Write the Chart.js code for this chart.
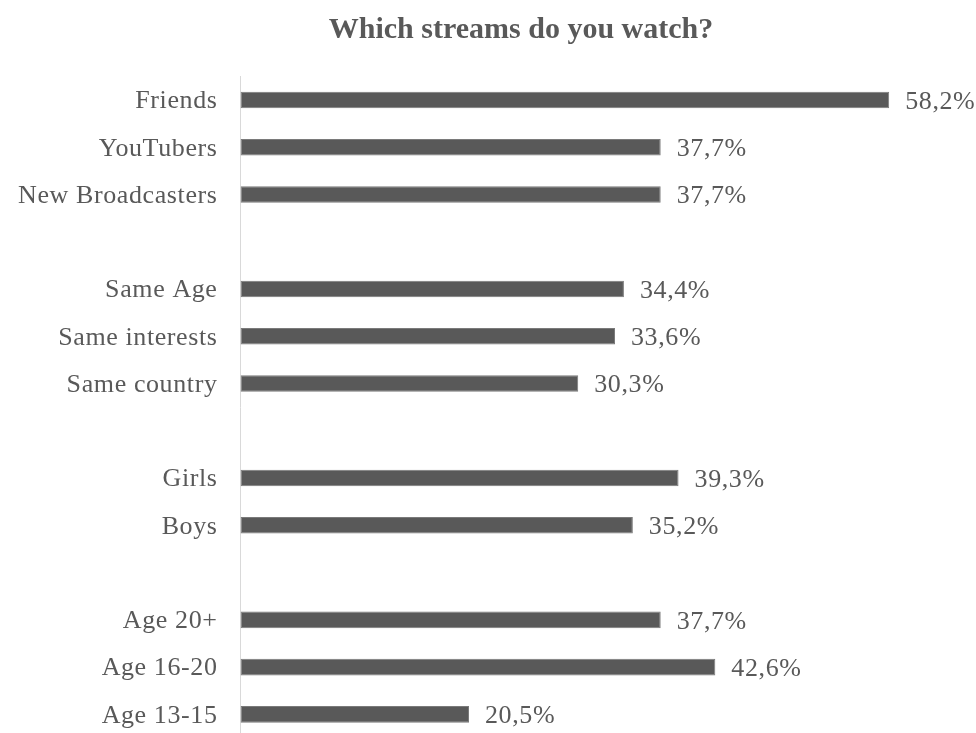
<!DOCTYPE html>
<html>
<head>
<meta charset="utf-8">
<title>Which streams do you watch?</title>
<script src="https://cdn.jsdelivr.net/npm/chart.js@4"></script>
<style>
  html, body { margin: 0; padding: 0; background: #ffffff; overflow: hidden; }
  #wrap { position: relative; width: 976px; height: 738px; }
</style>
</head>
<body>
<div id="wrap"><canvas id="chart"></canvas></div>
<script>
// Groups are separated by empty rows (blank label, no value)
const categories = [
  'Friends', 'YouTubers', 'New Broadcasters', '',
  'Same Age', 'Same interests', 'Same country', '',
  'Girls', 'Boys', '',
  'Age 20+', 'Age 16-20', 'Age 13-15'
];
const shares = [
  58.2, 37.7, 37.7, null,
  34.4, 33.6, 30.3, null,
  39.3, 35.2, null,
  37.7, 42.6, 20.5
];
const chartTitle = 'Which streams do you watch?';

const TEXT = '#595959';
const SERIF = '"Liberation Serif", "Times New Roman", serif';
const SPACING = '0.6px';

// Slightly open letter spacing for the axis text
const spacedText = {
  id: 'spacedText',
  beforeDraw(chart) {
    chart.ctx.letterSpacing = SPACING;
  },
  afterDraw(chart) {
    chart.ctx.letterSpacing = '0px';
  }
};

// Bold title, centred over the labels and bars
const titleText = {
  id: 'titleText',
  afterDraw(chart) {
    const ctx = chart.ctx;
    ctx.save();
    ctx.letterSpacing = '0px';
    ctx.font = 'bold 30px ' + SERIF;
    ctx.fillStyle = TEXT;
    ctx.textAlign = 'center';
    ctx.textBaseline = 'alphabetic';
    ctx.fillText(chartTitle, 521, 37.5);
    ctx.restore();
  }
};

// Percent labels with a decimal comma, drawn just past each bar end
const valueLabels = {
  id: 'valueLabels',
  afterDatasetsDraw(chart) {
    const ctx = chart.ctx;
    const meta = chart.getDatasetMeta(0);
    ctx.save();
    ctx.letterSpacing = SPACING;
    ctx.font = '26px ' + SERIF;
    ctx.fillStyle = TEXT;
    ctx.textAlign = 'left';
    ctx.textBaseline = 'middle';
    meta.data.forEach((bar, i) => {
      const v = shares[i];
      if (v === null || v === undefined) return;
      const txt = v.toFixed(1).replace('.', ',') + '%';
      ctx.fillText(txt, bar.x + 16, bar.y + 2);
    });
    ctx.restore();
  }
};

new Chart(document.getElementById('chart'), {
  type: 'bar',
  data: {
    labels: categories,
    datasets: [{
      data: shares,
      backgroundColor: '#595959',
      borderColor: '#7a7a7a',
      borderWidth: 1,
      borderSkipped: false,
      categoryPercentage: 1,
      barPercentage: 0.35
    }]
  },
  options: {
    indexAxis: 'y',
    responsive: true,
    maintainAspectRatio: false,
    animation: false,
    layout: { padding: { left: 0, right: 11, top: 76.4, bottom: 0 } },
    plugins: {
      legend: { display: false },
      tooltip: { enabled: false },
      title: { display: false }
    },
    scales: {
      x: {
        display: false,
        min: 0,
        max: 65
      },
      y: {
        grid: { display: false, drawTicks: false },
        border: { display: true, color: '#d9d9d9', width: 1 },
        ticks: {
          color: TEXT,
          font: { family: SERIF, size: 26 },
          padding: 23,
          labelOffset: 1.5,
          autoSkip: false
        },
        afterFit(scale) {
          scale.width = 240.5;
          scale.paddingTop = 0;
          scale.paddingBottom = 0;
        }
      }
    }
  },
  plugins: [spacedText, valueLabels, titleText]
});
</script>
</body>
</html>
